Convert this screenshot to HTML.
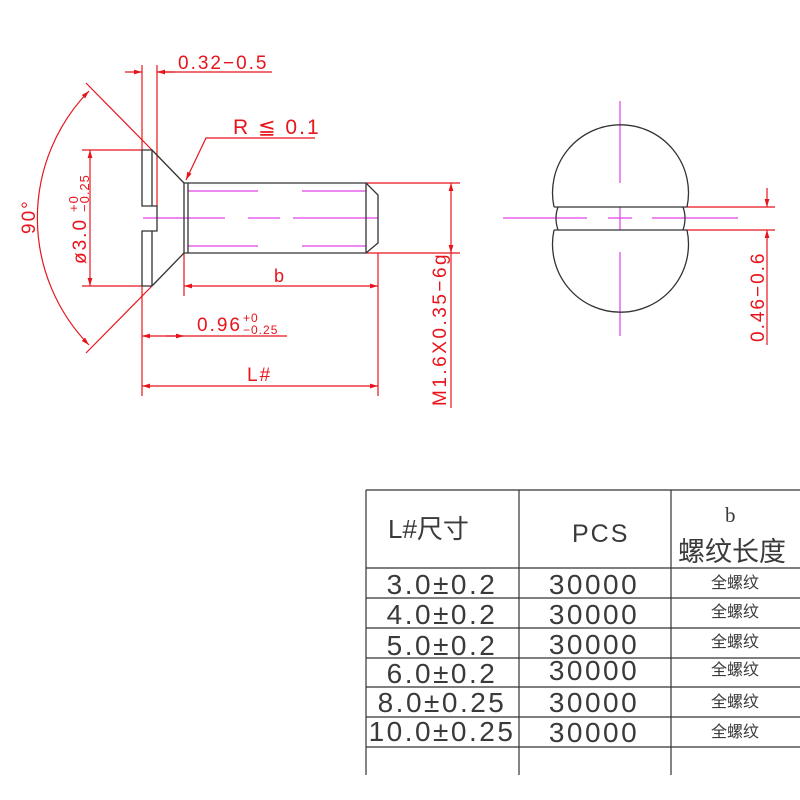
<!DOCTYPE html>
<html><head><meta charset="utf-8"><style>html,body{margin:0;padding:0;background:#fff}svg{display:block}</style></head>
<body>
<svg width="800" height="800" viewBox="0 0 800 800" xmlns="http://www.w3.org/2000/svg">
<defs>
<marker id="a" viewBox="0 0 10 6" refX="10" refY="3" markerWidth="8" markerHeight="5" orient="auto-start-reverse" markerUnits="userSpaceOnUse"><path d="M0,0 L10,3 L0,6 z" fill="#e8141c"/></marker>
</defs>
<g stroke="#e8141c" stroke-width="1.2" fill="none">
<line x1="142" y1="65" x2="142" y2="150"/><line x1="157" y1="65" x2="157" y2="206"/>
<line x1="125" y1="72" x2="142" y2="72" marker-end="url(#a)"/>
<line x1="175" y1="72" x2="157" y2="72" marker-end="url(#a)"/>
<line x1="157" y1="72" x2="272" y2="72"/>
<polyline points="315,138 206,138 186,180" marker-end="url(#a)"/>
<line x1="86" y1="83" x2="152" y2="150"/><line x1="86" y1="353" x2="152" y2="286"/>
<path d="M89,91 A182,182 0 0 0 89,345" marker-start="url(#a)" marker-end="url(#a)"/>
<line x1="82" y1="150" x2="142" y2="150"/><line x1="82" y1="286" x2="142" y2="286"/>
<line x1="90" y1="218" x2="90" y2="150" marker-end="url(#a)"/><line x1="90" y1="218" x2="90" y2="286" marker-end="url(#a)"/>
<line x1="184" y1="253" x2="184" y2="296"/><line x1="378" y1="253" x2="378" y2="396"/>
<line x1="142" y1="286" x2="142" y2="396"/>
<line x1="280" y1="286" x2="184" y2="286" marker-end="url(#a)"/><line x1="280" y1="286" x2="378" y2="286" marker-end="url(#a)"/>
<line x1="160" y1="336" x2="142" y2="336" marker-end="url(#a)"/><line x1="166" y1="336" x2="184" y2="336" marker-end="url(#a)"/>
<line x1="160" y1="336" x2="287" y2="336"/>
<line x1="260" y1="386" x2="142" y2="386" marker-end="url(#a)"/><line x1="260" y1="386" x2="378" y2="386" marker-end="url(#a)"/>
<line x1="366" y1="183" x2="460" y2="183"/><line x1="366" y1="253" x2="460" y2="253"/>
<line x1="451" y1="218" x2="451" y2="183" marker-end="url(#a)"/><line x1="451" y1="218" x2="451" y2="253" marker-end="url(#a)"/>
<line x1="451" y1="253" x2="451" y2="408"/>
<line x1="687" y1="207" x2="775" y2="207"/><line x1="687" y1="230" x2="775" y2="230"/>
<line x1="767" y1="188" x2="767" y2="207" marker-end="url(#a)"/><line x1="767" y1="250" x2="767" y2="230" marker-end="url(#a)"/>
<line x1="767" y1="250" x2="767" y2="345"/>
</g>
<g stroke="#e040e8" stroke-width="1.2" fill="none">
<line x1="188" y1="191" x2="258" y2="191"/><line x1="302" y1="191" x2="366" y2="191"/>
<line x1="188" y1="246" x2="258" y2="246"/><line x1="302" y1="246" x2="366" y2="246"/>
<line x1="143" y1="218" x2="225" y2="218"/><line x1="248" y1="218" x2="280" y2="218"/><line x1="293" y1="218" x2="378" y2="218"/>
<line x1="620" y1="101" x2="620" y2="183"/><line x1="620" y1="207" x2="620" y2="230"/><line x1="620" y1="252" x2="620" y2="336"/>
<line x1="503" y1="218" x2="587" y2="218"/><line x1="608" y1="218" x2="632" y2="218"/><line x1="652" y1="218" x2="738" y2="218"/>
</g>
<g stroke="#333" stroke-width="1.3" fill="none">
<polyline points="142,150 142,206 157,206 157,231 142,231 142,286 152,286"/>
<polyline points="152,286 152,231"/><polyline points="152,206 152,150 142,150"/>
<line x1="152" y1="150" x2="184" y2="183"/><line x1="152" y1="286" x2="184" y2="253"/>
<polyline points="184,183 366,183 378,195 378,243 366,253 184,253 184,183"/>
<line x1="188" y1="183" x2="188" y2="253"/><line x1="366" y1="183" x2="366" y2="253"/>
<path d="M554,207 A68,68 0 1 1 687,207"/><path d="M554,230 A68,68 0 1 0 687,230"/>
<line x1="554" y1="207" x2="687" y2="207"/><line x1="554" y1="230" x2="687" y2="230"/>
<path d="M558,207 Q554,218 558,230"/><path d="M683,207 Q687,218 683,230"/>
</g>
<g fill="#e8141c" font-family="Liberation Sans, sans-serif" letter-spacing="2">
<text x="178" y="69" font-size="19">0.32−0.5</text>
<text x="233" y="134" font-size="21">R ≦ 0.1</text>
<text x="274" y="282" font-size="18">b</text>
<text x="197" y="331" font-size="19">0.96</text>
<text x="243" y="322" font-size="12" letter-spacing="1">+0</text>
<text x="243" y="334" font-size="12" letter-spacing="1">−0.25</text>
<text x="247" y="381" font-size="19">L#</text>
<text transform="translate(35,234) rotate(-90)" font-size="19">90°</text>
<text transform="translate(86,264) rotate(-90)" font-size="19">ø3.0</text>
<text transform="translate(78,212) rotate(-90)" font-size="13" letter-spacing="1">+0</text>
<text transform="translate(89,212) rotate(-90)" font-size="13" letter-spacing="1">−0.25</text>
<text transform="translate(446,406) rotate(-90)" font-size="19" letter-spacing="2.5">M1.6X0.35−6g</text>
<text transform="translate(764,342) rotate(-90)" font-size="19">0.46−0.6</text>
</g>
<g stroke="#333" stroke-width="1.2" fill="none">
<line x1="366" y1="490" x2="800" y2="490"/>
<line x1="366" y1="490" x2="366" y2="775"/><line x1="519" y1="490" x2="519" y2="775"/><line x1="671" y1="490" x2="671" y2="775"/>
<line x1="366" y1="568" x2="800" y2="568"/><line x1="366" y1="598" x2="800" y2="598"/><line x1="366" y1="628" x2="800" y2="628"/>
<line x1="366" y1="658" x2="800" y2="658"/><line x1="366" y1="687" x2="800" y2="687"/><line x1="366" y1="717" x2="800" y2="717"/><line x1="366" y1="747" x2="800" y2="747"/>
</g>
<g fill="#3a3a3a" font-family="Liberation Sans, 'Noto Sans CJK SC', sans-serif">
<text x="388" y="538" font-size="26">L#尺寸</text>
<text x="572" y="542" font-size="25" letter-spacing="2">PCS</text>
<text x="725" y="522" font-size="21" font-family="Liberation Serif, serif">b</text>
<text x="678" y="561" font-size="27">螺纹长度</text>
<g font-size="28" text-anchor="middle" letter-spacing="2.5">
<text x="442" y="594">3.0±0.2</text><text x="594" y="594">30000</text>
<text x="442" y="624">4.0±0.2</text><text x="594" y="624">30000</text>
<text x="442" y="655">5.0±0.2</text><text x="594" y="654">30000</text>
<text x="442" y="683">6.0±0.2</text><text x="594" y="680">30000</text>
<text x="442" y="712">8.0±0.25</text><text x="594" y="712">30000</text>
<text x="442" y="741">10.0±0.25</text><text x="594" y="742">30000</text>
</g>
<g font-size="16" text-anchor="middle">
<text x="735" y="588">全螺纹</text><text x="735" y="617">全螺纹</text><text x="735" y="647">全螺纹</text>
<text x="735" y="675">全螺纹</text><text x="735" y="707">全螺纹</text><text x="735" y="737">全螺纹</text>
</g>
</g>
</svg>
</body></html>
